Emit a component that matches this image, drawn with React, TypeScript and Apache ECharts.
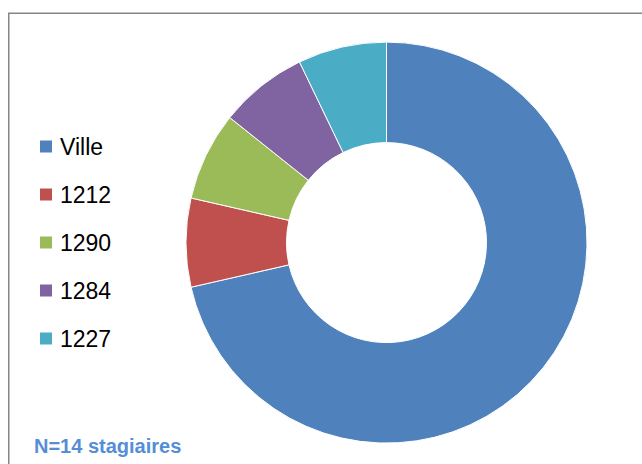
import React, { useEffect, useRef } from "react";
import * as echarts from "echarts";

const categories = ["Ville", "1212", "1290", "1284", "1227"];
const values = [10, 1, 1, 1, 1];
const colors = ["#4F81BD", "#C0504D", "#9BBB59", "#8064A2", "#4BACC6"];
const note = "N=14 stagiaires";

export default function App() {
  const ref = useRef<HTMLDivElement>(null);
  useEffect(() => {
    if (!ref.current) return;
    const chart = echarts.init(ref.current, undefined, { renderer: "svg" });
    chart.setOption({
      animation: false,
      backgroundColor: "#ffffff",
      color: colors,
      legend: {
        orient: "vertical",
        left: 38,
        top: 134.5,
        padding: 0,
        itemWidth: 14,
        itemHeight: 14,
        itemGap: 24,
        icon: "rect",
        selectedMode: false,
        data: categories,
        textStyle: {
          fontFamily: "Liberation Sans",
          fontSize: 23,
          color: "#000000",
          lineHeight: 24,
          padding: [0, 0, 0, 2],
        },
      },
      graphic: [
        {
          type: "rect",
          shape: { x: 8.75, y: 13.25, width: 700, height: 500 },
          style: { fill: "none", stroke: "#868686", lineWidth: 1.5 },
          silent: true,
          z: 100,
        },
        {
          type: "text",
          x: 34,
          y: 446,
          style: {
            text: note,
            font: "bold 20px 'Liberation Sans'",
            fill: "#558ED5",
            verticalAlign: "middle",
            align: "left",
          },
        },
      ],
      series: [
        {
          type: "pie",
          center: [386.5, 242.6],
          radius: [100, 200.5],
          startAngle: 90,
          clockwise: true,
          label: { show: false },
          labelLine: { show: false },
          emphasis: { disabled: true },
          itemStyle: { borderColor: "#ffffff", borderWidth: 1 },
          data: categories.map((name, i) => ({ name, value: values[i] })),
        },
      ],
    });
    return () => chart.dispose();
  }, []);
  return (
    <div
      ref={ref}
      style={{ position: "fixed", left: 0, top: 0, width: 642, height: 464 }}
    />
  );
}
